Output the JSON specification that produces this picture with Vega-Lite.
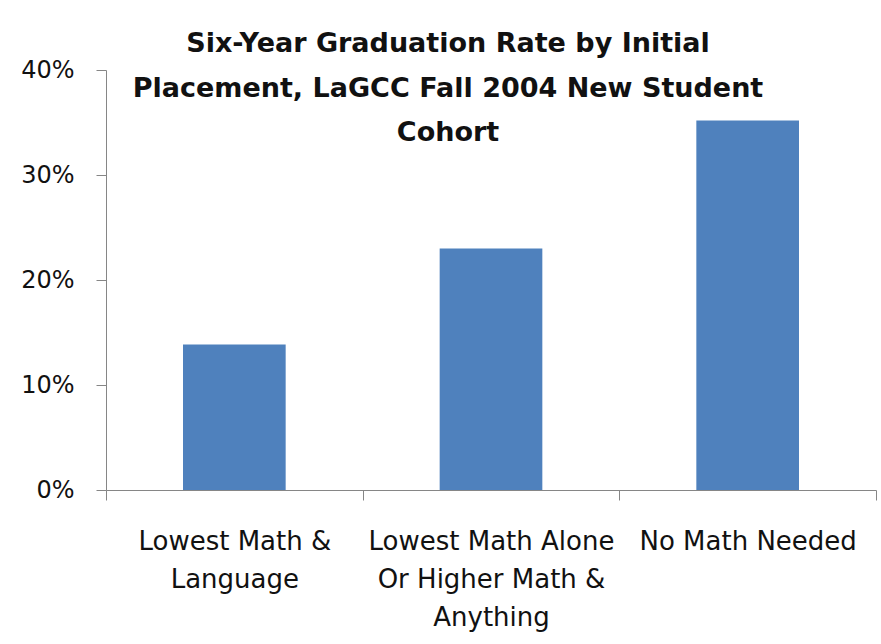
{
  "$schema": "https://vega.github.io/schema/vega-lite/v6.json",
  "width": 770,
  "height": 420,
  "autosize": "none",
  "padding": {"left": 106, "top": 70, "right": 5, "bottom": 154},
  "background": "white",
  "title": {
    "text": ["Six-Year Graduation Rate by Initial", "Placement, LaGCC Fall 2004 New Student", "Cohort"],
    "font": "DejaVu Sans",
    "fontSize": 27,
    "fontWeight": "bold",
    "color": "#111111",
    "lineHeight": 44.5,
    "anchor": "middle",
    "offset": -89,
    "dx": -43
  },
  "data": {
    "values": [
      {"placement": "Lowest Math & Language", "rate": 0.1386},
      {"placement": "Lowest Math Alone Or Higher Math & Anything", "rate": 0.230},
      {"placement": "No Math Needed", "rate": 0.352}
    ]
  },
  "mark": {"type": "bar", "color": "#4F81BD", "width": {"band": 0.4}},
  "encoding": {
    "x": {
      "field": "placement",
      "type": "nominal",
      "sort": null,
      "scale": {"paddingInner": 0, "paddingOuter": 0},
      "axis": {
        "title": null,
        "labelAngle": 0,
        "tickBand": "extent",
        "tickSize": 10,
        "tickColor": "#868686",
        "domainColor": "#868686",
        "labelPadding": 28,
        "labelFont": "DejaVu Sans",
        "labelFontSize": 26,
        "labelColor": "#111111",
        "labelLineHeight": 38,
        "labelLimit": 0,
        "labelExpr": "datum.value == 'Lowest Math & Language' ? ['Lowest Math &', 'Language'] : datum.value == 'No Math Needed' ? ['No Math Needed'] : datum.value == 'Lowest Math Alone Or Higher Math & Anything' ? ['Lowest Math Alone', 'Or Higher Math &', 'Anything'] : ''"
      }
    },
    "y": {
      "field": "rate",
      "type": "quantitative",
      "scale": {"domain": [0, 0.4]},
      "axis": {
        "title": null,
        "grid": false,
        "values": [0, 0.1, 0.2, 0.3, 0.4],
        "format": ".0%",
        "tickSize": 10,
        "tickColor": "#868686",
        "domainColor": "#868686",
        "labelPadding": 22,
        "labelFont": "DejaVu Sans",
        "labelFontSize": 24,
        "labelColor": "#111111"
      }
    }
  },
  "config": {"view": {"stroke": null}}
}
